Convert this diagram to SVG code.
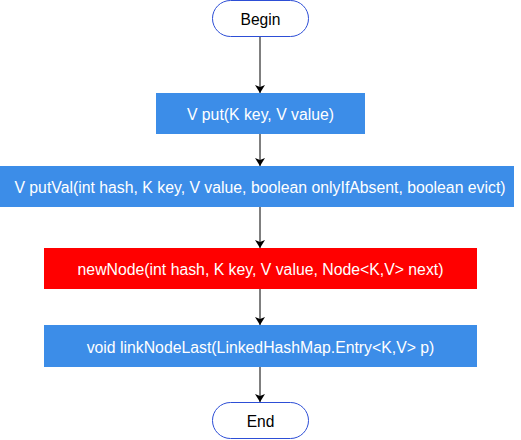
<svg xmlns="http://www.w3.org/2000/svg" width="521" height="440" viewBox="0 0 521 440">
<style>
.term{fill:#ffffff;stroke:#2d4ed6;stroke-width:1}
.proc{fill:#3c8de8}
.red{fill:#ff0000}
.lbl{font-family:"Liberation Sans",Arial,Helvetica,sans-serif;font-size:15.8px;fill:#ffffff;text-anchor:middle;dominant-baseline:central}
.dark{fill:#000000;font-size:15.6px}
.edge{stroke:#000000;stroke-width:1;fill:none;marker-end:url(#arr)}
</style>
<defs>
<marker id="arr" viewBox="0 0 8 10" refX="8" refY="5" markerWidth="8" markerHeight="10" markerUnits="userSpaceOnUse" orient="auto">
<path d="M0,0 L8,5 L0,10 L2,5 Z" fill="#000000"/>
</marker>
</defs>
<rect width="521" height="440" fill="#ffffff"/>
<g id="connectors">
<line class="edge" x1="260" y1="37" x2="260" y2="93"/>
<line class="edge" x1="260" y1="134" x2="260" y2="166"/>
<line class="edge" x1="260" y1="207" x2="260" y2="248"/>
<line class="edge" x1="260" y1="289" x2="260" y2="325"/>
<line class="edge" x1="260" y1="367" x2="260" y2="402"/>
</g>
<g id="begin">
<rect class="term" x="212.5" y="0.5" width="96" height="36" rx="18" ry="18"/>
<text class="lbl dark" x="260.5" y="19">Begin</text>
</g>
<g id="put">
<rect class="proc" x="156" y="93" width="209" height="41"/>
<text class="lbl" x="260.5" y="114.5">V put(K key, V value)</text>
</g>
<g id="putVal">
<rect class="proc" x="0" y="166" width="514" height="41"/>
<text class="lbl" x="260" y="187.5">V putVal(int hash, K key, V value, boolean onlyIfAbsent, boolean evict)</text>
</g>
<g id="newNode">
<rect class="red" x="44" y="248" width="433" height="41"/>
<text class="lbl" x="260.5" y="269.5">newNode(int hash, K key, V value, Node&lt;K,V&gt; next)</text>
</g>
<g id="linkNodeLast">
<rect class="proc" x="44" y="325" width="433" height="42"/>
<text class="lbl" x="260.5" y="347">void linkNodeLast(LinkedHashMap.Entry&lt;K,V&gt; p)</text>
</g>
<g id="end">
<rect class="term" x="212.5" y="402.5" width="96" height="36" rx="18" ry="18"/>
<text class="lbl dark" x="260.5" y="421">End</text>
</g>
</svg>
